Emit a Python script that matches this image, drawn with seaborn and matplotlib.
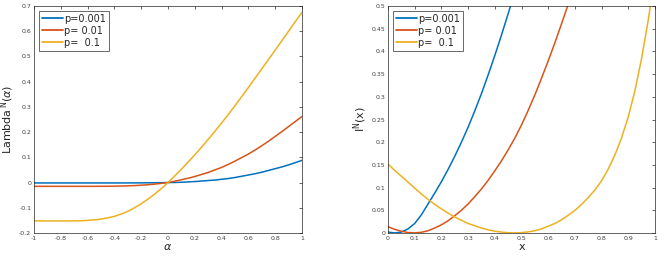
import matplotlib
matplotlib.use('Agg')
import matplotlib.pyplot as plt
import seaborn as sns
import numpy as np
import pandas as pd
from matplotlib.ticker import FuncFormatter

sns.set_style('white')
plt.rcParams['font.family'] = ['DejaVu Sans']

# --- data ---
labels = ['p=0.001', 'p= 0.01', 'p=  0.1']
colors = ['#0072BD', '#D95319', '#EDB120']

# left panel: alpha from -1 to 1 in steps of 0.05
alpha = list(np.round(np.linspace(-1, 1, 41), 2))
lam_p001 = [-0.0015] * 13 + [-0.0015, -0.0014, -0.0013, -0.0012, -0.001, -0.0008, -0.0004, 0.0,
            0.0003, 0.0012, 0.0025, 0.004, 0.006, 0.008, 0.010, 0.013, 0.016, 0.02,
            0.025, 0.03, 0.035, 0.041, 0.048, 0.055, 0.062, 0.07, 0.079, 0.088]
lam_p01 = [-0.015] * 10 + [-0.0148, -0.0146, -0.0142, -0.0137, -0.013, -0.012, -0.0105, -0.0086,
           -0.0062, -0.0033, 0.0,
           0.0053, 0.011, 0.017, 0.024, 0.032, 0.04, 0.05, 0.06, 0.072, 0.085,
           0.099, 0.113, 0.129, 0.146, 0.164, 0.183, 0.202, 0.222, 0.242, 0.262]
lam_p1 = [-0.152] * 7 + [-0.1515, -0.150, -0.148, -0.145, -0.140, -0.134, -0.125, -0.114,
          -0.100, -0.084, -0.066, -0.046, -0.024, 0.0,
          0.026, 0.053, 0.081, 0.110, 0.140, 0.171, 0.203, 0.236, 0.27, 0.305,
          0.341, 0.377, 0.414, 0.451, 0.488, 0.525, 0.563, 0.6, 0.638, 0.675]

# right panel: x from 0 to 1 in steps of 0.025 (nan = above the plotted range)
xs = list(np.round(np.linspace(0, 1, 41), 3))
nan = np.nan
rate_p001 = [0.002, 0.0002, 0.002, 0.009, 0.021, 0.04, 0.064, 0.088, 0.113, 0.14,
             0.169, 0.2, 0.233, 0.269, 0.307, 0.348, 0.391, 0.436, 0.483, 0.531] + [nan] * 21
rate_p01 = [0.014, 0.008, 0.004, 0.001, 0.0003, 0.0015, 0.005, 0.011, 0.018, 0.027,
            0.038, 0.05, 0.064, 0.08, 0.097, 0.116, 0.137, 0.159, 0.183, 0.209,
            0.238, 0.27, 0.304, 0.341, 0.379, 0.419, 0.461, 0.504] + [nan] * 13
rate_p1 = [0.152, 0.138, 0.125, 0.112, 0.099, 0.086, 0.074, 0.063, 0.053, 0.044,
           0.035, 0.028, 0.021, 0.016, 0.011, 0.007, 0.004, 0.002, 0.0006, 0.0002,
           0.0008, 0.0025, 0.005, 0.009, 0.015, 0.021, 0.029, 0.039, 0.05, 0.063,
           0.078, 0.095, 0.115, 0.141, 0.172, 0.21, 0.256, 0.314, 0.385, 0.47, 0.57]

df_left = pd.DataFrame({
    'alpha': alpha * 3,
    'value': lam_p001 + lam_p01 + lam_p1,
    'p': [labels[0]] * len(alpha) + [labels[1]] * len(alpha) + [labels[2]] * len(alpha),
})
df_right = pd.DataFrame({
    'x': xs * 3,
    'value': rate_p001 + rate_p01 + rate_p1,
    'p': [labels[0]] * len(xs) + [labels[1]] * len(xs) + [labels[2]] * len(xs),
}).dropna()

fig = plt.figure(figsize=(6.64, 2.58), dpi=100)
ax1 = fig.add_axes([34 / 664, 25 / 258, 268 / 664, 227 / 258])
ax2 = fig.add_axes([388 / 664, 25 / 258, 267 / 664, 227 / 258])

sns.lineplot(data=df_left, x='alpha', y='value', hue='p', palette=colors,
             linewidth=1.1, ax=ax1, sort=False)
sns.lineplot(data=df_right, x='x', y='value', hue='p', palette=colors,
             linewidth=1.1, ax=ax2, sort=False)

fmt = FuncFormatter(lambda v, pos: f'{v:g}' if abs(v) > 1e-9 else '0')


def style(ax, xlim, ylim, xticks, yticks):
    ax.set_xlim(*xlim)
    ax.set_ylim(*ylim)
    ax.set_xticks(xticks)
    ax.set_yticks(yticks)
    ax.xaxis.set_major_formatter(fmt)
    ax.yaxis.set_major_formatter(fmt)
    ax.tick_params(direction='in', length=2.5, width=0.5, labelsize=4.5,
                   colors='#262626', labelcolor='#404040', pad=2,
                   top=True, right=True)
    for s in ax.spines.values():
        s.set_color('#262626')
        s.set_linewidth(0.5)
    leg = ax.legend(loc='upper left', fontsize=7, frameon=True, fancybox=False,
                    handlelength=2.2, borderpad=0.3, labelspacing=0.2,
                    handletextpad=0.1, borderaxespad=0.5)
    leg.get_frame().set_edgecolor('#262626')
    leg.get_frame().set_linewidth(0.6)
    for line in leg.get_lines():
        line.set_linewidth(1.3)


style(ax1, (-1, 1), (-0.2, 0.7), np.arange(-1, 1.01, 0.2), np.arange(-0.2, 0.71, 0.1))
style(ax2, (0, 1), (0, 0.5), np.arange(0, 1.01, 0.1), np.arange(0, 0.51, 0.05))

ax1.set_xlabel(r'$\alpha$', fontsize=8, labelpad=1)
ax1.set_ylabel(r'Lambda$^{\,\mathrm{N}}$($\alpha$)', fontsize=8, labelpad=2)
ax2.set_xlabel('x', fontsize=8, labelpad=1)
ax2.set_ylabel(r'I$^{\mathrm{N}}$(x)', fontsize=8, labelpad=2)

fig.savefig('out.png', dpi=100, facecolor='white')
